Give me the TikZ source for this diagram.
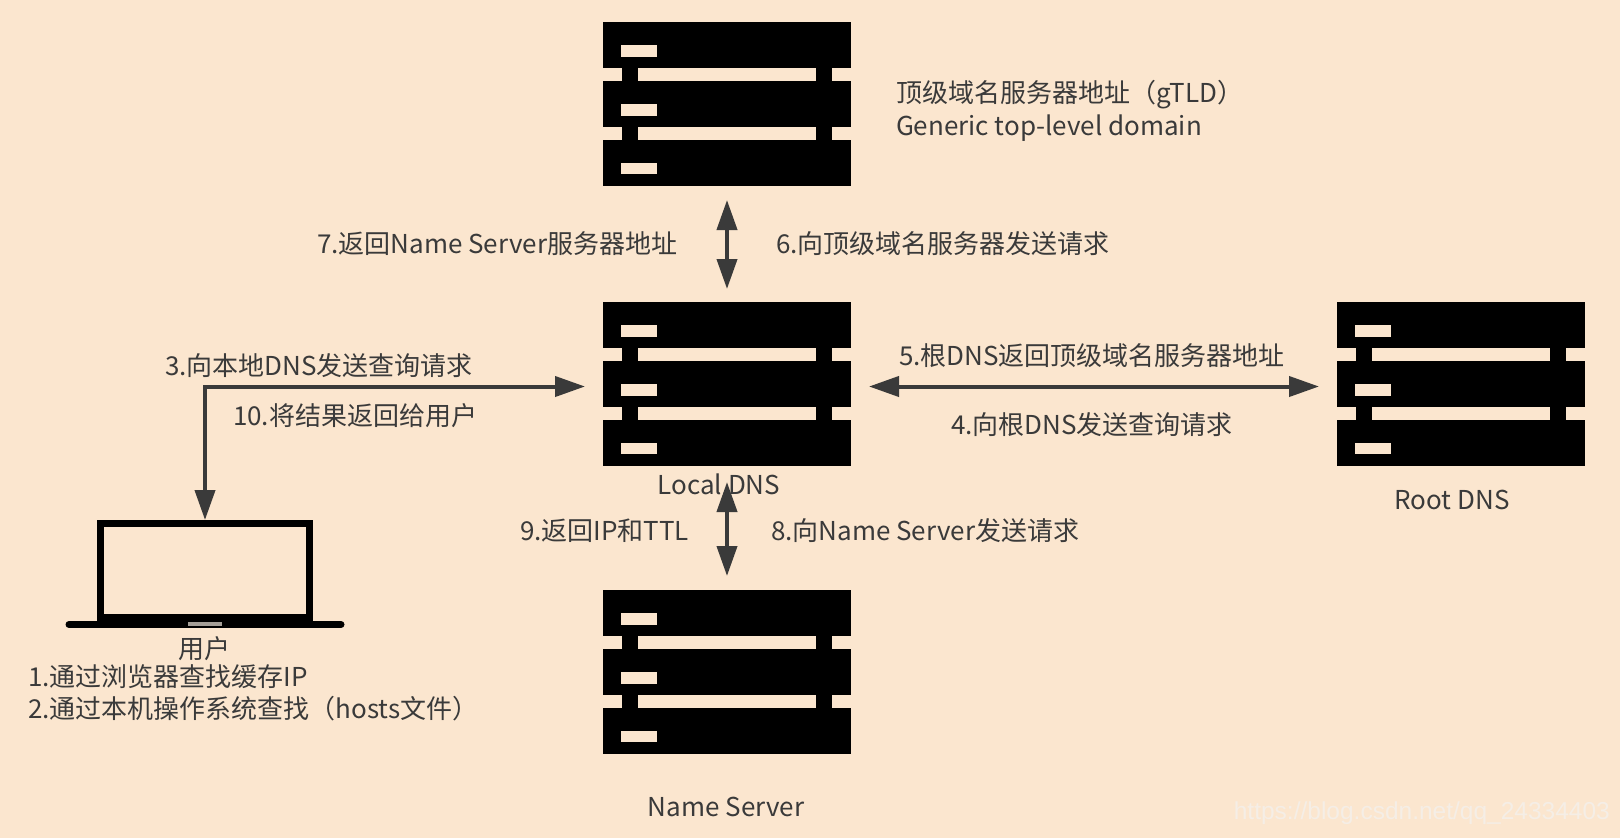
\documentclass[tikz,border=0pt]{standalone}
\usepackage{fontspec}
\setmainfont{Noto Sans CJK SC}
\setsansfont{Noto Sans CJK SC}
\newfontfamily\wmfont{Liberation Sans}
\usetikzlibrary{arrows.meta}
\definecolor{pagebg}{HTML}{FBE6CF}
\definecolor{inkdark}{HTML}{3A3A3A}
\definecolor{wmark}{HTML}{F5EEE6}
\tikzset{
  x=1pt,y=-1pt,
  serverbox/.style={fill=black,draw=none,inner sep=0pt,outer sep=0pt,minimum width=248pt,minimum height=164pt,anchor=north west},
  screenbox/.style={draw=black,line width=7pt,inner sep=0pt,minimum width=209pt,minimum height=94pt,anchor=north},
  link/.style={draw=inkdark,line width=4pt},
  twoway/.style={link,{Triangle[length=30pt,width=20pt]}-{Triangle[length=30pt,width=20pt]}},
  label/.style={inner sep=0pt,outer sep=0pt,text=inkdark,font=\fontsize{26}{30}\selectfont,anchor=west},
  clabel/.style={label,anchor=center}
}
\newcommand{\serverrack}[3]{%
  \node[serverbox] (#1) at (#2,#3) {};
  \begin{scope}[shift={(#2,#3)}]
    \fill[pagebg] (18,23) rectangle (54,35);
    \fill[pagebg] (18,82) rectangle (54,94);
    \fill[pagebg] (18,141) rectangle (54,152);
    \fill[pagebg] (0,46) rectangle (19,59);
    \fill[pagebg] (35,46) rectangle (213,59);
    \fill[pagebg] (229,46) rectangle (248,59);
    \fill[pagebg] (0,105) rectangle (19,118);
    \fill[pagebg] (35,105) rectangle (213,118);
    \fill[pagebg] (229,105) rectangle (248,118);
  \end{scope}%
}
\begin{document}
\begin{tikzpicture}
\useasboundingbox (0,0) rectangle (1620,838);
\fill[pagebg] (0,0) rectangle (1620,838);

\serverrack{gtld}{603}{22}
\serverrack{local}{603}{302}
\serverrack{root}{1337}{302}
\serverrack{ns}{603}{590}

% laptop
\node[screenbox] (laptop) at (205,520) {};
\draw[black,line width=7pt,line cap=round] (69,624.5) -- (341,624.5);
\fill[gray!70!pagebg] (188,622) rectangle (222,626);

% connectors
\draw[twoway,shorten >=13pt,shorten <=14pt] (gtld.south) -- (local.north);
\draw[twoway,shorten >=14pt,shorten <=16pt] (local.south) -- (ns.north);
\draw[twoway,shorten >=18pt,shorten <=18pt] ([yshift=-2.5pt]local.east) -- ([yshift=-2.5pt]root.west);
\draw[twoway,shorten >=18pt] (laptop.north) |- ([yshift=-2.5pt]local.west);

% labels
\node[label] (t1) at (896,95) {顶级域名服务器地址（gTLD）};
\node[label] (t2) at (896,128) {Generic top-level domain};
\node[label] (t7) at (317,244) {7.返回Name Server服务器地址};
\node[label] (t6) at (776,244) {6.向顶级域名服务器发送请求};
\node[label] (t3) at (165,366) {3.向本地DNS发送查询请求};
\node[label] (t10) at (233,416) {10.将结果返回给用户};
\node[label] (t5) at (899,356) {5.根DNS返回顶级域名服务器地址};
\node[label] (t4) at (951,425) {4.向根DNS发送查询请求};
\node[clabel] (tlocal) at (719,484) {Local DNS};
\node[clabel] (troot) at (1452,500) {Root DNS};
\node[label] (t9) at (520,531) {9.返回IP和TTL};
\node[label] (t8) at (771,531) {8.向Name Server发送请求};
\node[clabel] (tuser) at (204,649) {用户};
\node[label] (t1a) at (28,677) {1.通过浏览器查找缓存IP};
\node[label] (t2a) at (28,709) {2.通过本机操作系统查找（hosts文件）};
\node[clabel] (tns) at (726,807) {Name Server};
\node[inner sep=0pt,anchor=east,text=wmark,font=\wmfont\fontsize{24.5}{28}\selectfont] (wm) at (1610,813) {https://blog.csdn.net/qq\_24334403};
\end{tikzpicture}
\end{document}
